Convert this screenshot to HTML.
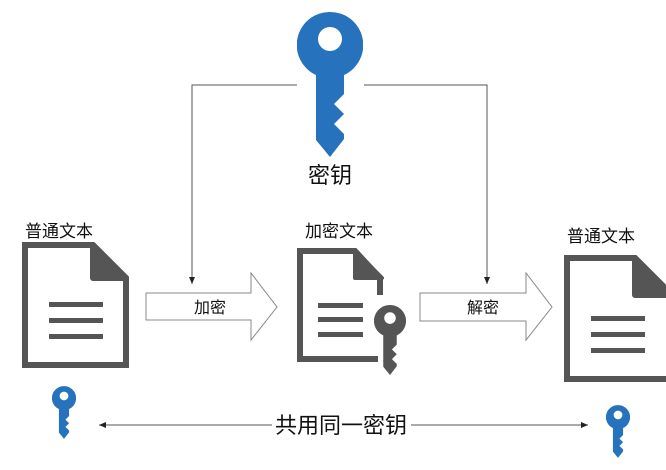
<!DOCTYPE html>
<html><head><meta charset="utf-8"><style>
html,body{margin:0;padding:0;background:#fff;}
svg text{font-family:"Liberation Sans","Noto Sans CJK SC",sans-serif;fill:#111;}
</style></head><body>
<svg width="666" height="465" viewBox="0 0 666 465" xmlns="http://www.w3.org/2000/svg">
<defs>
<marker id="ah" markerWidth="8" markerHeight="8" refX="7" refY="4" orient="auto" markerUnits="userSpaceOnUse">
<path d="M0,1 L7,4 L0,7 z" fill="#222"/></marker>
<symbol id="key" viewBox="0 0 66 145">
<path d="M33,0 A33,33 0 0 1 47,63 L47,82 L37,92 L47,102 L37,112 L47,122 L47,127 L33,145 L19,128 L19,63 A33,33 0 0 1 33,0 Z M33,15 A12,12 0 1 0 33,39 A12,12 0 1 0 33,15 Z" fill-rule="evenodd"/>
</symbol>
</defs>
<polyline points="297,85 192,85 192,284" fill="none" stroke="#555" stroke-width="1" marker-end="url(#ah)"/>
<polyline points="364,85 487,85 487,284" fill="none" stroke="#555" stroke-width="1" marker-end="url(#ah)"/>
<use href="#key" x="297" y="12" width="66" height="145" fill="#2672bc"/>
<text x="330" y="183" font-size="22" text-anchor="middle">密钥</text>
<text x="25" y="237" font-size="17">普通文本</text>
<path d="M25,245 L93,245 L126,278 L126,365 L25,365 Z" fill="#fff" stroke="#555" stroke-width="6"/>
<path d="M93,245 L126,278 L93,278 Z" fill="#555" stroke="#555" stroke-width="6" stroke-linejoin="round"/>
<rect x="49" y="302" width="54" height="5" fill="#555"/>
<rect x="49" y="318" width="54" height="5" fill="#555"/>
<rect x="49" y="334" width="54" height="5" fill="#555"/>
<path d="M146,293 L251,293 L251,273 L277,307 L251,340 L251,320 L146,320 Z" fill="#fff" stroke="#888" stroke-width="1"/>
<text x="210" y="313" font-size="16" text-anchor="middle">加密</text>
<text x="305" y="237" font-size="17">加密文本</text>
<path d="M380,295 L380,278 L355,251 L300,251 L300,359 L378,359" fill="#fff" stroke="#555" stroke-width="6"/>
<path d="M355,251 L382,278 L355,278 Z" fill="#555" stroke="#555" stroke-width="4" stroke-linejoin="round"/>
<rect x="318" y="303" width="45" height="5" fill="#555"/>
<rect x="318" y="317" width="45" height="5" fill="#555"/>
<rect x="318" y="332" width="45" height="5" fill="#555"/>
<use href="#key" x="374" y="305" width="32" height="70" fill="#555"/>
<path d="M420,293 L526,293 L526,273 L552,307 L526,340 L526,321 L420,321 Z" fill="#fff" stroke="#888" stroke-width="1"/>
<text x="483" y="313" font-size="16" text-anchor="middle">解密</text>
<text x="567" y="242" font-size="17">普通文本</text>
<path d="M567,258 L635,258 L672,295 L672,379 L567,379 Z" fill="#fff" stroke="#555" stroke-width="6"/>
<path d="M635,258 L672,295 L635,295 Z" fill="#555" stroke="#555" stroke-width="6" stroke-linejoin="round"/>
<rect x="591" y="316" width="54" height="5" fill="#555"/>
<rect x="591" y="332" width="54" height="5" fill="#555"/>
<rect x="591" y="348" width="54" height="5" fill="#555"/>
<use href="#key" x="52" y="386" width="24" height="53" fill="#2672bc"/>
<use href="#key" x="606" y="405" width="24" height="53" fill="#2672bc"/>
<line x1="272" y1="425" x2="99" y2="425" stroke="#555" stroke-width="1" marker-end="url(#ah)"/>
<line x1="411" y1="425" x2="588" y2="425" stroke="#555" stroke-width="1" marker-end="url(#ah)"/>
<text x="341" y="433" font-size="22" text-anchor="middle">共用同一密钥</text>
</svg>
</body></html>
